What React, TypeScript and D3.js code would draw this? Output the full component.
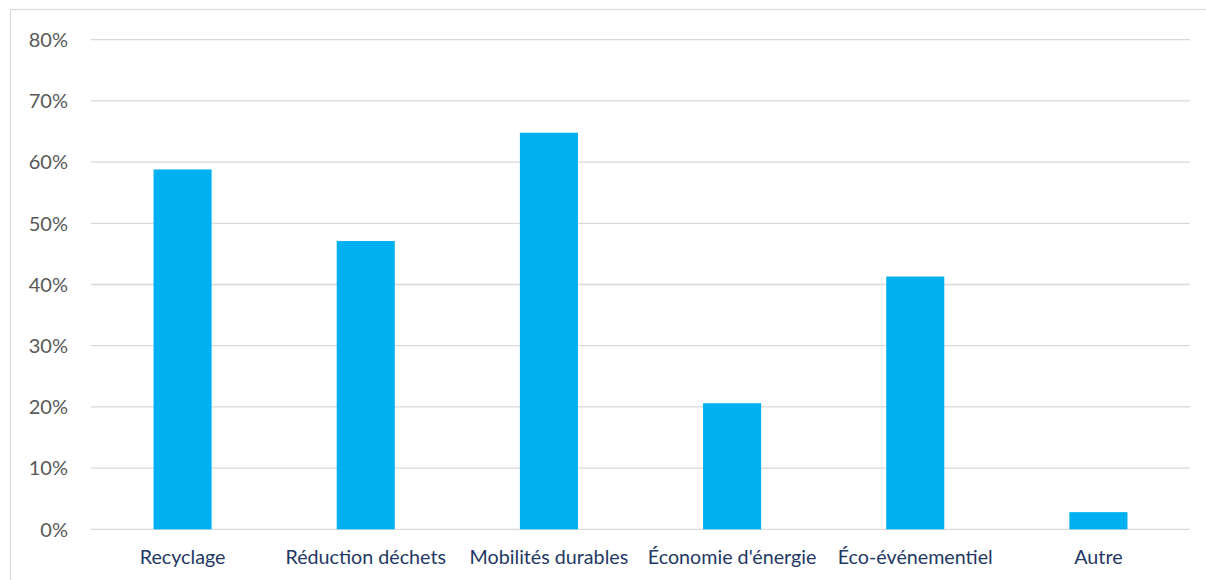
import React from "react";
import * as d3 from "d3";

const categories = [
  "Recyclage",
  "Réduction déchets",
  "Mobilités durables",
  "Économie d'énergie",
  "Éco-événementiel",
  "Autre",
];
const values = [58.8, 47.1, 64.8, 20.6, 41.3, 2.8];
const yTicks = [0, 10, 20, 30, 40, 50, 60, 70, 80];

const W = 1206;
const H = 580;
const margin = { left: 91, right: 16, top: 39.7, bottom: 50.7 };

export default function App() {
  const x = d3
    .scaleBand<string>()
    .domain(categories)
    .range([margin.left, W - margin.right])
    .paddingInner(0.683)
    .paddingOuter(0.3415);
  const y = d3
    .scaleLinear()
    .domain([0, 80])
    .range([H - margin.bottom, margin.top]);

  return (
    <svg
      width={W}
      height={H}
      style={{ position: "fixed", left: 0, top: 0, background: "#fff" }}
    >
      <rect x={10.5} y={9.5} width={W} height={H} fill="none" stroke="#d9d9d9" strokeWidth={1.2} />
      {yTicks.map((t) => (
        <g key={t}>
          <line
            x1={margin.left}
            x2={W - margin.right}
            y1={y(t)}
            y2={y(t)}
            stroke="#d9d9d9"
            strokeWidth={1.3}
          />
          <text
            x={68}
            y={y(t)}
            dy="0.36em"
            textAnchor="end"
            fill="#595959"
            fontFamily="Lato, sans-serif"
            fontSize={20}
          >
            {t}%
          </text>
        </g>
      ))}
      {categories.map((c, i) => (
        <rect
          key={c}
          x={x(c)}
          width={x.bandwidth()}
          y={y(values[i])}
          height={y(0) - y(values[i])}
          fill="#00b0f0"
        />
      ))}
      {categories.map((c) => (
        <text
          key={c}
          x={(x(c) ?? 0) + x.bandwidth() / 2}
          y={564}
          textAnchor="middle"
          fill="#1f3864"
          fontFamily="Lato, sans-serif"
          fontSize={19.7}
        >
          {c}
        </text>
      ))}
    </svg>
  );
}
